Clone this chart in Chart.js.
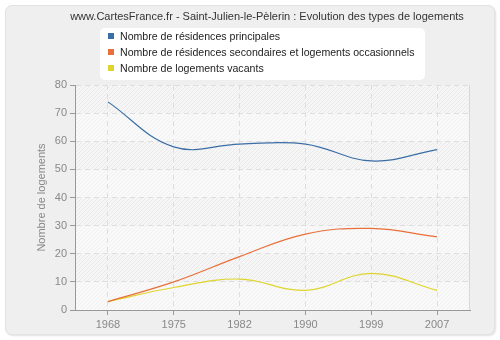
<!DOCTYPE html>
<html>
<head>
<meta charset="utf-8">
<script src="https://cdn.jsdelivr.net/npm/chart.js@4/dist/chart.umd.min.js"></script>
<style>
  html, body { margin: 0; padding: 0; background: #fff; }
  #wrap { position: relative; width: 500px; height: 340px; font-family: "Liberation Sans", Arial, sans-serif; }
  #panel {
    position: absolute; left: 5px; top: 5px; width: 490px; height: 330px;
    box-sizing: border-box; background: #efefef; border: 1px solid #e2e2e2;
    border-radius: 7px; box-shadow: 1px 1px 2px rgba(0,0,0,0.12);
  }
  #chart { position: absolute; left: 0; top: 0; }
  #title {
    position: absolute; top: 10px; left: 267px; transform: translateX(-50%);
    white-space: nowrap; font-size: 11px; color: #333;
  }
  #legend {
    position: absolute; left: 100px; top: 28px; width: 325px; height: 52px;
    background: #fff; border-radius: 5px;
  }
  #legend div { position: absolute; left: 20px; font-size: 10.6px; color: #222; white-space: nowrap; line-height: 14px; }
  #legend span { position: absolute; left: -12px; top: 4px; width: 6px; height: 6px; }
</style>
</head>
<body>
<div id="wrap">
  <div id="panel"></div>
  <canvas id="chart" width="500" height="340"></canvas>
  <div id="title">www.CartesFrance.fr - Saint-Julien-le-Pèlerin : Evolution des types de logements</div>
  <div id="legend"></div>
</div>
<script>
// données : recensements
const years = ["1968", "1975", "1982", "1990", "1999", "2007"];
const principales = [74, 58, 59, 59, 53, 57];
const secondaires = [3, 10, 19, 27, 29, 26];
const vacants = [3, 8, 11, 7, 13, 7];
const yTicks = [0, 10, 20, 30, 40, 50, 60, 70, 80];

const seriesLabels = [
  "Nombre de résidences principales",
  "Nombre de résidences secondaires et logements occasionnels",
  "Nombre de logements vacants",
];
const colors = ["#3a6ea5", "#e8703a", "#dfd52e"];
const FONT = "Liberation Sans";

// légende en HTML
const legend = document.getElementById("legend");
seriesLabels.forEach((lbl, i) => {
  const row = document.createElement("div");
  row.style.top = (1 + i * 16) + "px";
  row.innerHTML = '<span style="background:' + colors[i] + '"></span>' + lbl;
  legend.appendChild(row);
});

// motif hachuré du fond
function hatch(ctx, bg, line) {
  const c = document.createElement("canvas");
  c.width = c.height = 4;
  const g = c.getContext("2d");
  g.fillStyle = bg;
  g.fillRect(0, 0, 4, 4);
  g.strokeStyle = line;
  g.lineWidth = 1;
  g.beginPath();
  g.moveTo(0, 4); g.lineTo(4, 0);
  g.moveTo(-1, 1); g.lineTo(1, -1);
  g.moveTo(3, 5); g.lineTo(5, 3);
  g.stroke();
  return ctx.createPattern(c, "repeat");
}

const bandPlugin = {
  id: "bands",
  beforeDraw(chart) {
    const { ctx, chartArea: a, scales } = chart;
    const strong = hatch(ctx, "#f6f6f6", "#e9e9e9");
    const light = hatch(ctx, "#f9f9f9", "#f1f1f1");
    for (let i = 0; i < yTicks.length - 1; i++) {
      const y0 = scales.y.getPixelForValue(yTicks[i]);
      const y1 = scales.y.getPixelForValue(yTicks[i + 1]);
      ctx.fillStyle = i % 2 === 1 ? strong : light;
      ctx.fillRect(a.left, y1, a.right - a.left, y0 - y1);
    }
    ctx.strokeStyle = "#d8d8d8";
    ctx.lineWidth = 1;
    ctx.beginPath();
    ctx.moveTo(a.right - 0.5, a.top);
    ctx.lineTo(a.right - 0.5, a.bottom);
    ctx.stroke();
  },
};

const mk = (label, data, color) => ({
  label, data,
  borderColor: color,
  backgroundColor: color,
  borderWidth: 1.2,
  pointRadius: 0,
  tension: 0.4,
  fill: false,
});

new Chart(document.getElementById("chart"), {
  type: "line",
  data: {
    labels: years,
    datasets: [
      mk(seriesLabels[0], principales, colors[0]),
      mk(seriesLabels[1], secondaires, colors[1]),
      mk(seriesLabels[2], vacants, colors[2]),
    ],
  },
  options: {
    responsive: false,
    animation: false,
    layout: { padding: { left: 31, top: 85, right: 30, bottom: 0 } },
    plugins: { legend: { display: false }, tooltip: { enabled: false } },
    scales: {
      x: {
        offset: true,
        afterFit: (s) => { s.height = 30; },
        grid: { offset: false, color: "#dedede", tickColor: "#999", tickLength: 5 },
        border: { color: "#999", dash: [5, 4] },
        ticks: { color: "#888", font: { family: FONT, size: 11 }, padding: 3 },
      },
      y: {
        min: 0,
        max: 80,
        afterFit: (s) => { s.width = 44; },
        afterBuildTicks: (s) => { s.ticks = yTicks.map((v) => ({ value: v })); },
        grid: { color: "#dedede", tickColor: "#999", tickLength: 5 },
        border: { color: "#999", dash: [5, 4] },
        ticks: { color: "#888", font: { family: FONT, size: 11 }, padding: 3 },
        title: {
          display: true,
          text: "Nombre de logements",
          color: "#888",
          font: { family: FONT, size: 11 },
          padding: { top: 4, bottom: 0 },
        },
      },
    },
  },
  plugins: [bandPlugin],
});
</script>
</body>
</html>
